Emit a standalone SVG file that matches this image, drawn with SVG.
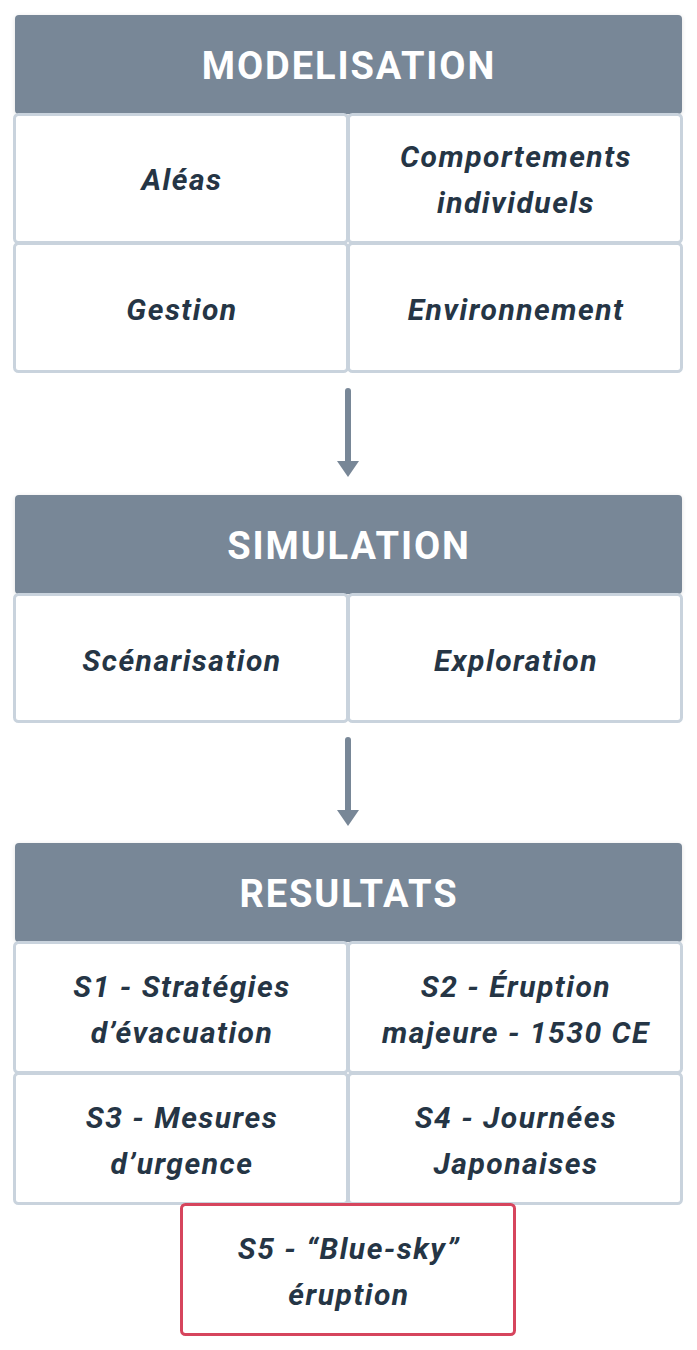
<svg xmlns="http://www.w3.org/2000/svg" width="697" height="1350" viewBox="0 0 697 1350">
<style>
.hdr{fill:#788797}
.hdt{fill:#fff;font-family:Roboto,"Liberation Sans",sans-serif;font-weight:700;font-size:38px;letter-spacing:1.9px;text-anchor:middle}
.cell{fill:#fff;stroke:#c9d3dd;stroke-width:3}
.red{fill:#fff;stroke:#d6455d;stroke-width:3}
.t{fill:#253545;font-family:Roboto,"Liberation Sans",sans-serif;font-weight:700;font-style:italic;font-size:30px;letter-spacing:1.5px;text-anchor:middle}
.arr{stroke:#788797;stroke-width:6;stroke-linecap:round;fill:none}
.head{fill:#788797}
</style>
<defs>
<filter id="sh" x="-5%" y="-20%" width="110%" height="140%"><feDropShadow dx="0" dy="1" stdDeviation="2" flood-color="#000" flood-opacity="0.12"/></filter>
</defs>
<rect width="697" height="1350" fill="#fff"/>

<g id="modelisation">
<rect class="hdr" x="15" y="15" width="667" height="99" rx="4" filter="url(#sh)"/>
<text class="hdt" x="349" y="79">MODELISATION</text>
</g>
<g id="aleas"><rect class="cell" x="14.5" y="114.5" width="333" height="128" rx="4"/><text class="t" x="182" y="190">Aléas</text></g>
<g id="comportements"><rect class="cell" x="348.5" y="114.5" width="333" height="128" rx="4"/><text class="t" x="516" y="167">Comportements</text><text class="t" x="516" y="213">individuels</text></g>
<g id="gestion"><rect class="cell" x="14.5" y="243.5" width="333" height="128" rx="4"/><text class="t" x="182" y="320">Gestion</text></g>
<g id="environnement"><rect class="cell" x="348.5" y="243.5" width="333" height="128" rx="4"/><text class="t" x="516" y="320">Environnement</text></g>

<g id="simulation">
<rect class="hdr" x="15" y="495" width="667" height="99" rx="4" filter="url(#sh)"/>
<text class="hdt" x="349" y="559">SIMULATION</text>
</g>
<g id="scenarisation"><rect class="cell" x="14.5" y="594.5" width="333" height="127" rx="4"/><text class="t" x="182" y="671">Scénarisation</text></g>
<g id="exploration"><rect class="cell" x="348.5" y="594.5" width="333" height="127" rx="4"/><text class="t" x="516" y="671">Exploration</text></g>

<g id="resultats">
<rect class="hdr" x="15" y="843" width="667" height="99" rx="4" filter="url(#sh)"/>
<text class="hdt" x="349" y="907">RESULTATS</text>
</g>
<g id="s1"><rect class="cell" x="14.5" y="942.5" width="333" height="130" rx="4"/><text class="t" x="182" y="997">S1 - Stratégies</text><text class="t" x="182" y="1043">d’évacuation</text></g>
<g id="s2"><rect class="cell" x="348.5" y="942.5" width="333" height="130" rx="4"/><text class="t" x="516" y="997">S2 - Éruption</text><text class="t" x="516" y="1043">majeure - 1530 CE</text></g>
<g id="s3"><rect class="cell" x="14.5" y="1073.5" width="333" height="130" rx="4"/><text class="t" x="182" y="1128">S3 - Mesures</text><text class="t" x="182" y="1174">d’urgence</text></g>
<g id="s4"><rect class="cell" x="348.5" y="1073.5" width="333" height="130" rx="4"/><text class="t" x="516" y="1128">S4 - Journées</text><text class="t" x="516" y="1174">Japonaises</text></g>
<g id="s5"><rect class="red" x="181.5" y="1204.5" width="333" height="130" rx="4"/><text class="t" x="349" y="1259">S5 - “Blue-sky”</text><text class="t" x="349" y="1305">éruption</text></g>

<g id="connectors">
<line class="arr" x1="348" y1="391" x2="348" y2="464"/>
<path class="head" d="M337,461 L359,461 L348,477 Z"/>
<line class="arr" x1="348" y1="740" x2="348" y2="813"/>
<path class="head" d="M337,810 L359,810 L348,826 Z"/>
</g>
</svg>
